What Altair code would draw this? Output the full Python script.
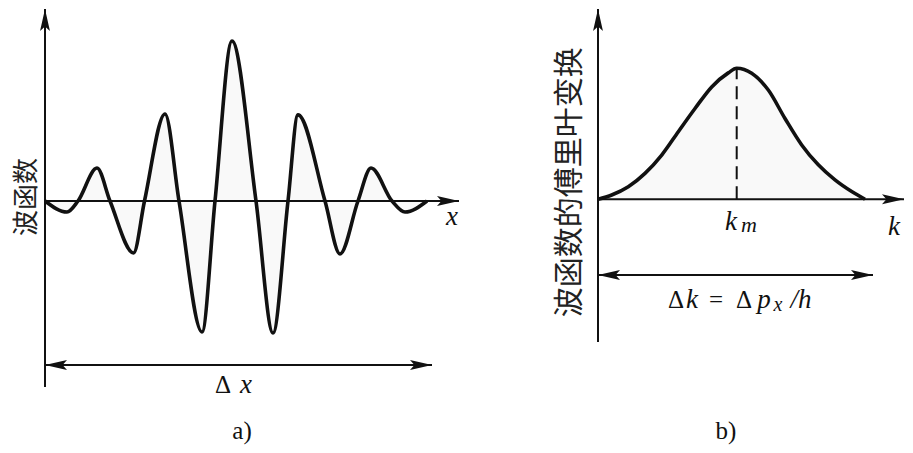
import altair as alt
import pandas as pd

# ---------------- data ----------------
# a) wave packet: position (arbitrary units) and amplitude (central peak = 1)
wave_x = [0.0, 2.2, 3.3, 5.2, 6.5, 8.85, 9.95, 12.0, 13.4, 15.7, 17.0, 18.7,
          21.1, 22.8, 24.3, 25.3, 28.0, 29.5, 31.3, 32.6, 34.7, 36.0, 38.2]
wave_y = [0.0, -0.069, 0.0, 0.206, 0.0, -0.325, 0.0, 0.544, 0.0, -0.819, 0.0, 1.0,
          0.0, -0.825, 0.0, 0.538, 0.0, -0.331, 0.0, 0.206, 0.0, -0.069, 0.0]

# b) Fourier transform: wave number k (arbitrary units) and amplitude (peak = 1)
ft_k = [0.0, 1.37, 3.03, 4.7, 6.37, 8.03, 9.7, 11.37, 13.03, 13.87,
        15.37, 17.03, 18.7, 20.37, 22.03, 23.7, 25.37, 26.7]
ft_amp = [0.0, 0.033, 0.096, 0.198, 0.338, 0.516, 0.693, 0.858, 0.965, 1.0,
          0.962, 0.834, 0.617, 0.415, 0.263, 0.148, 0.059, 0.0]
k_m = 13.87

# extents of the drawn axes / spans
a_axis_x_end = 41.4
a_axis_y_lo, a_axis_y_hi = -1.1625, 1.2
a_span_level, a_span_end = -1.025, 38.7
b_axis_x_end = 30.6
b_axis_y_lo, b_axis_y_hi = -1.089, 1.4527
b_span_level, b_span_end = -0.578, 27.5

# text labels
a_cjk = ["波函数"]
a_italic = ["x", "x"]
a_upright = ["Δ", "a)"]
b_cjk = ["波函数的傅里叶变换"]
b_italic = ["k", "m", "k", "k", "p", "x", "/h"]
b_upright = ["Δ", "=", "Δ", "b)"]

# ---------------- layout / style ----------------
A_XDOM = [-3.7, 86.0]
A_YDOM = [-1.525, 1.20625]
B_XDOM = [-59.0, 30.7]
B_YDOM = [-1.8756, 1.4603]
INK = "#111111"
FILL = "#f9f9f9"
ARROW = "M0,0L0.45,2L0,1.6L-0.45,2Z"
SERIF = "Liberation Serif"
CJK = "Noto Sans CJK SC"


def panel(xdom, ydom, cx, cy, interp, segs, heads, cjk_df, cjk_size, ital_df, up_df,
          dashed=None):
    xs = alt.Scale(domain=xdom, nice=False, zero=False)
    ys = alt.Scale(domain=ydom, nice=False, zero=False)
    curve = pd.DataFrame({"x": cx, "y": cy})
    X = lambda f: alt.X(f, type="quantitative", scale=xs, axis=None)
    Y = lambda f: alt.Y(f, type="quantitative", scale=ys, axis=None)
    layers = [
        alt.Chart(curve).mark_area(interpolate=interp, color=FILL).encode(
            x=X("x"), y=Y("y"), y2=alt.datum(0)),
        alt.Chart(pd.DataFrame(segs)).mark_rule(color=INK, strokeWidth=2).encode(
            x=X("x0"), x2="x1", y=Y("y0"), y2="y1"),
        alt.Chart(curve).mark_line(interpolate=interp, color=INK, strokeWidth=3.6,
                                   strokeJoin="round").encode(x=X("x"), y=Y("y")),
    ]
    if dashed is not None:
        layers.append(alt.Chart(pd.DataFrame(dashed)).mark_rule(
            color=INK, strokeWidth=2, strokeDash=[13, 7]).encode(
            x=X("x0"), y=Y("y0"), y2="y1"))
    layers += [
        alt.Chart(pd.DataFrame(heads)).mark_point(
            shape=ARROW, filled=True, size=484, color=INK, opacity=1, strokeWidth=0
        ).encode(x=X("x"), y=Y("y"), angle=alt.Angle("ang:Q", scale=None)),
        alt.Chart(cjk_df).mark_text(font=CJK, angle=270, fontSize=cjk_size,
                                    align="center", baseline="middle",
                                    color="#222222").encode(
            x=X("x"), y=Y("y"), text="t:N"),
    ]
    # serif labels: one layer per (style, size) so font settings are plain mark properties
    for style, df in (("italic", ital_df), ("normal", up_df)):
        for fs, sub in df.groupby("fs"):
            layers.append(
                alt.Chart(sub.reset_index(drop=True)).mark_text(
                    font=SERIF, fontStyle=style, fontSize=int(fs), align="center",
                    baseline="alphabetic", color=INK
                ).encode(x=X("x"), y=Y("y"), text="t:N"))
    return alt.layer(*layers)


panel_a = panel(
    A_XDOM, A_YDOM, wave_x, wave_y, "monotone",
    {"x0": [0, 0, 0], "x1": [0, a_axis_x_end, a_span_end],
     "y0": [a_axis_y_lo, 0, a_span_level], "y1": [a_axis_y_hi, 0, a_span_level]},
    {"x": [0, a_axis_x_end, 0, a_span_end],
     "y": [a_axis_y_hi, 0, a_span_level, a_span_level],
     "ang": [0, 90, 270, 90]},
    pd.DataFrame({"t": a_cjk, "x": [-1.8], "y": [0.025]}), 26,
    pd.DataFrame({"t": a_italic, "x": [40.7, 20.1], "y": [-0.15, -1.2], "fs": [27, 27]}),
    pd.DataFrame({"t": a_upright, "x": [17.8, 19.7], "y": [-1.2, -1.4875], "fs": [25, 25]}),
)

panel_b = panel(
    B_XDOM, B_YDOM, ft_k, ft_amp, "monotone",
    {"x0": [0, 0, 0], "x1": [0, b_axis_x_end, b_span_end],
     "y0": [b_axis_y_lo, 0, b_span_level], "y1": [b_axis_y_hi, 0, b_span_level]},
    {"x": [0, b_axis_x_end, 0, b_span_end],
     "y": [b_axis_y_hi, 0, b_span_level, b_span_level],
     "ang": [0, 90, 270, 90]},
    pd.DataFrame({"t": b_cjk, "x": [-2.8], "y": [0.13]}), 30,
    pd.DataFrame({"t": b_italic,
                  "x": [13.3, 15.1, 29.6, 9.4, 16.6, 18.0, 20.3],
                  "y": [-0.234, -0.25, -0.273, -0.83, -0.83, -0.853, -0.83],
                  "fs": [27, 22, 27, 27, 27, 20, 27]}),
    pd.DataFrame({"t": b_upright, "x": [7.8, 11.8, 14.6, 12.8],
                  "y": [-0.83, -0.83, -0.83, -1.83], "fs": [25, 25, 25, 25]}),
    dashed={"x0": [k_m], "y0": [0.0], "y1": [1.0]},
)

chart = (
    alt.layer(panel_a, panel_b)
    .resolve_scale(x="independent", y="independent")
    .properties(width=897, height=437, padding=0,
                autosize=alt.AutoSizeParams(type="none"), background="white")
    .configure_view(stroke=None)
)

chart.save("out.html", embed_options={"renderer": "svg", "actions": False})
